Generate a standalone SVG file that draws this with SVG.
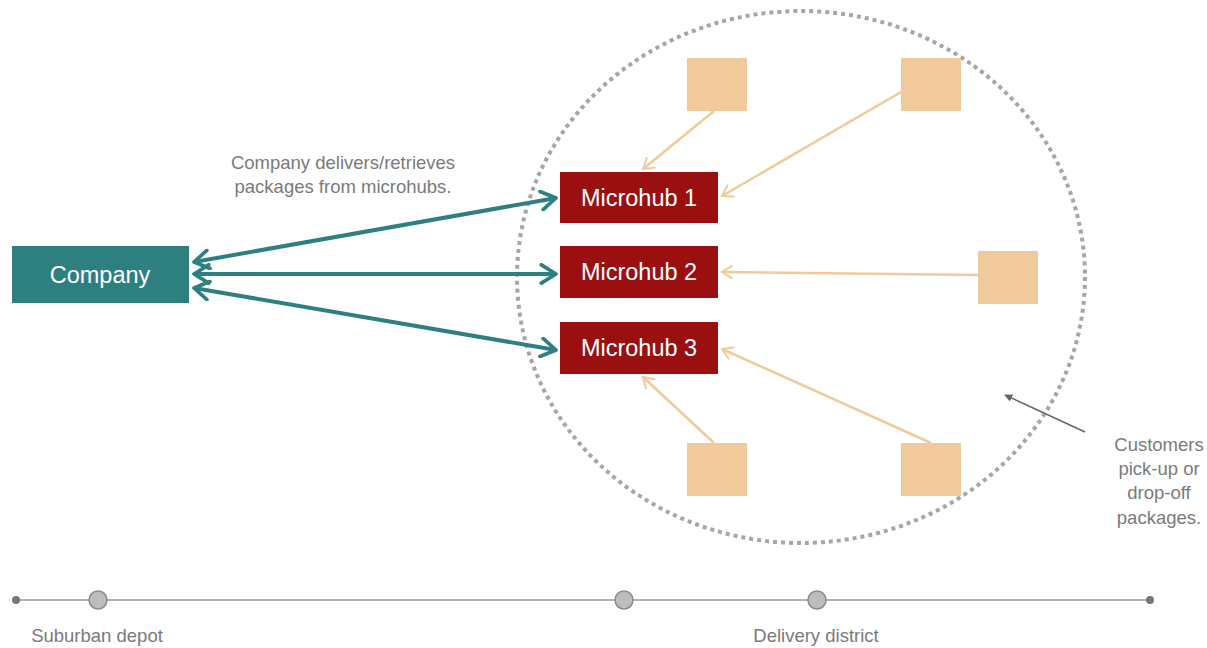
<svg xmlns="http://www.w3.org/2000/svg" width="1207" height="648" viewBox="0 0 1207 648">
<style>
.lbl{font-family:"Liberation Sans",Arial,sans-serif;fill:#7a7a7a;font-size:18.5px;text-anchor:middle}
.node-t{font-family:"Liberation Sans",Arial,sans-serif;fill:#ffffff;font-size:23.5px;text-anchor:middle}
.hub{fill:#9a0f10}
.cust{fill:#f0ca9b}
.teal{stroke:#2e8080;stroke-width:4;fill:none;marker-start:url(#tealHead);marker-end:url(#tealHead)}
.tan{stroke:#f0ca9b;stroke-width:2.5;fill:none;marker-end:url(#tanHead)}
</style>
<defs>
<marker id="tealHead" viewBox="0 0 12 12" refX="10" refY="6" markerWidth="5.5" markerHeight="5.5" orient="auto-start-reverse" markerUnits="strokeWidth">
<path d="M2,1 L10,6 L2,11" fill="none" stroke="#2e8080" stroke-width="2" stroke-linecap="round" stroke-linejoin="round"/>
</marker>
<marker id="tanHead" viewBox="0 0 12 12" refX="10" refY="6" markerWidth="6" markerHeight="6" orient="auto" markerUnits="strokeWidth">
<path d="M2,1 L10,6 L2,11" fill="none" stroke="#f0ca9b" stroke-width="1.6" stroke-linecap="round"/>
</marker>
<marker id="grayHead" viewBox="0 0 10 10" refX="9" refY="5" markerWidth="8" markerHeight="8" orient="auto" markerUnits="userSpaceOnUse">
<path d="M0,0 L10,5 L0,10 z" fill="#666"/>
</marker>
</defs>
<rect width="1207" height="648" fill="#ffffff"/>

<ellipse id="district" cx="801" cy="277" rx="284" ry="266" fill="none" stroke="#a6a6a6" stroke-width="4" stroke-dasharray="4 4"/>

<g id="connectors">
<line class="teal" x1="194" y1="262" x2="556" y2="198"/>
<line class="teal" x1="194" y1="274" x2="556" y2="274"/>
<line class="teal" x1="194" y1="288" x2="556" y2="350"/>
<line class="tan" x1="714" y1="111" x2="643" y2="169"/>
<line class="tan" x1="901" y1="92" x2="722" y2="196"/>
<line class="tan" x1="978" y1="275" x2="722" y2="272"/>
<line class="tan" x1="714" y1="443" x2="643" y2="377"/>
<line class="tan" x1="931" y1="443" x2="722" y2="349"/>
<line x1="1085" y1="432" x2="1005" y2="395" stroke="#666" stroke-width="1.5" marker-end="url(#grayHead)"/>
</g>

<g id="company">
<rect x="12" y="246" width="177" height="57" fill="#2e8080"/>
<text class="node-t" x="100" y="283">Company</text>
</g>
<g id="microhub1">
<rect class="hub" x="560" y="172" width="158" height="51"/>
<text class="node-t" x="639" y="206">Microhub 1</text>
</g>
<g id="microhub2">
<rect class="hub" x="560" y="246" width="158" height="52"/>
<text class="node-t" x="639" y="280">Microhub 2</text>
</g>
<g id="microhub3">
<rect class="hub" x="560" y="322" width="158" height="52"/>
<text class="node-t" x="639" y="356">Microhub 3</text>
</g>
<g id="customer1"><rect class="cust" x="687" y="58" width="60" height="53"/></g>
<g id="customer2"><rect class="cust" x="901" y="58" width="60" height="53"/></g>
<g id="customer3"><rect class="cust" x="978" y="251" width="60" height="53"/></g>
<g id="customer4"><rect class="cust" x="687" y="443" width="60" height="53"/></g>
<g id="customer5"><rect class="cust" x="901" y="443" width="60" height="53"/></g>

<g id="labels">
<text class="lbl" x="343" y="169">Company delivers/retrieves</text>
<text class="lbl" x="343" y="193">packages from microhubs.</text>
<text class="lbl" x="1159" y="451">Customers</text>
<text class="lbl" x="1159" y="475">pick-up or</text>
<text class="lbl" x="1159" y="499">drop-off</text>
<text class="lbl" x="1159" y="524">packages.</text>
</g>

<g id="timeline">
<line x1="16" y1="600" x2="1150" y2="600" stroke="#b0b0b0" stroke-width="2"/>
<circle cx="16" cy="600" r="4" fill="#777"/>
<circle cx="1150" cy="600" r="4" fill="#777"/>
<circle cx="98" cy="600" r="9" fill="#bdbdbd" stroke="#8a8a8a" stroke-width="1.5"/>
<circle cx="624" cy="600" r="9" fill="#bdbdbd" stroke="#8a8a8a" stroke-width="1.5"/>
<circle cx="817" cy="600" r="9" fill="#bdbdbd" stroke="#8a8a8a" stroke-width="1.5"/>
<text class="lbl" x="97" y="642" font-size="18">Suburban depot</text>
<text class="lbl" x="816" y="642" font-size="18">Delivery district</text>
</g>
</svg>
